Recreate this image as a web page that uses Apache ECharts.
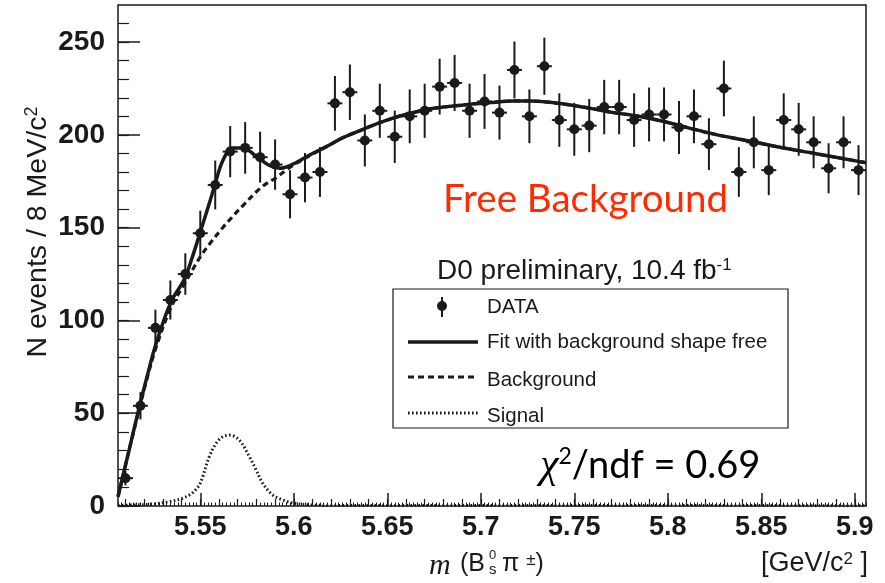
<!DOCTYPE html>
<html>
<head>
<meta charset="utf-8">
<script src="https://cdn.jsdelivr.net/npm/echarts@6.0.0/dist/echarts.min.js"></script>
<style>
html,body{margin:0;padding:0;background:#fff;}
#chart{width:885px;height:583px;}
</style>
</head>
<body>
<div id="chart"></div>
<script>
// ---- data ----
const massBins = [5.510,5.518,5.526,5.534,5.542,5.550,5.558,5.566,5.574,5.582,
                  5.590,5.598,5.606,5.614,5.622,5.630,5.638,5.646,5.654,5.662,
                  5.670,5.678,5.686,5.694,5.702,5.710,5.718,5.726,5.734,5.742,
                  5.750,5.758,5.766,5.774,5.782,5.790,5.798,5.806,5.814,5.822,
                  5.830,5.838,5.846,5.854,5.862,5.870,5.878,5.886,5.894,5.902];
const dataCounts = [15,54,96,111,125,147,173,191,193,188,
                    184,168,177,180,217,223,197,213,199,210,
                    213,226,228,213,218,212,235,210,237,208,
                    203,205,215,215,208,211,211,204,210,195,
                    225,180,196,181,208,203,196,182,196,181];

const fitMass = [5.506,5.5119,5.5173,5.5216,5.5262,5.5343,5.5414,5.5457,5.5495,5.5548,
                 5.5575,5.562,5.5673,5.5727,5.5799,5.587,5.5924,5.5995,5.6085,5.6174,
                 5.6263,5.6371,5.646,5.6568,5.6693,5.68,5.6943,5.705,5.7175,5.7265,
                 5.7355,5.748,5.7587,5.7712,5.7837,5.798,5.8106,5.8248,5.8428,5.8606,
                 5.8785,5.9026,5.906];
const fitVals = [5,30,53,70,87,110,122,134,146,163,
                 172,186,193,193,188.5,183.5,182,184.2,189.2,193.7,
                 198.5,203,206.6,210.2,213.3,215,216.5,217.4,218.3,218.3,
                 217.7,216.1,214.3,212,210.2,207.2,203.9,200.4,196.8,193.2,
                 190,185.6,185];

const bgMass = [5.506,5.5119,5.5173,5.5216,5.5262,5.5343,5.5414,5.5457,5.5495,5.5548,
                5.562,5.5673,5.5727,5.5826,5.5906,5.5987,5.6085,5.6174,
                5.6263,5.6371,5.646,5.6568,5.6693,5.68,5.6943,5.705,5.7175,5.7265,
                5.7355,5.748,5.7587,5.7712,5.7837,5.798,5.8106,5.8248,5.8428,5.8606,
                5.8785,5.9026,5.906];
const bgVals = [5,30,52,69,85,107,119.5,127,133.5,141,
                150,156,161.8,171.7,177,183,188.8,193.6,
                198.5,203,206.6,210.2,213.3,215,216.5,217.4,218.3,218.3,
                217.7,216.1,214.3,212,210.2,207.2,203.9,200.4,196.8,193.2,
                190,185.6,185];

const sigMass = [5.506,5.515,5.5242,5.5334,5.5403,5.5457,5.5495,5.5513,5.5548,5.5584,
                 5.562,5.5656,5.5709,5.5763,5.5799,5.5834,5.5888,5.5942,5.5995,5.6085,
                 5.62,5.906];
const sigVals = [0.3,0.6,1,2.3,4.1,7,11.3,15.8,26.5,33.7,
                 37.3,38.2,35.5,26.5,19.4,12.2,5.9,3.2,1.6,0.6,
                 0.3,0.2];

const xTickValues = [5.55,5.6,5.65,5.7,5.75,5.8,5.85,5.9];
const xTickLabels = ['5.55','5.6','5.65','5.7','5.75','5.8','5.85','5.9'];
const yTickValues = [0,50,100,150,200,250];
const yTickLabels = ['0','50','100','150','200','250'];
const halfBin = 0.004;

// minor tick positions (axis decoration only)
const xMid = [], xMinor = [], yMinor = [];
for (let k = 551; k <= 590; k++) xMid.push(k / 100);
for (let k = 2753; k <= 2953; k++) xMinor.push(k / 500);
for (let k = 0; k <= 26; k++) yMinor.push(k * 10);

const ink = '#1a1a1a';
const chart = echarts.init(document.getElementById('chart'), null, {renderer: 'canvas'});

const xBase = {type: 'value', min: 5.506, max: 5.906, gridIndex: 0, position: 'bottom',
               axisLine: {show: false}, splitLine: {show: false}};
const yBase = {type: 'value', min: 0, max: 270, gridIndex: 0, position: 'left',
               axisLine: {show: false}, splitLine: {show: false}};

chart.setOption({
  animation: false,
  grid: {left: 118, right: 19, top: 5, bottom: 77, show: true, borderColor: ink, borderWidth: 1.5, backgroundColor: 'transparent'},
  xAxis: [
    Object.assign({}, xBase, {
      axisTick: {show: true, inside: true, length: 13, customValues: xTickValues, lineStyle: {color: ink, width: 1.5}},
      axisLabel: {show: true, customValues: xTickValues, margin: 8,
        formatter: v => xTickLabels[xTickValues.findIndex(t => Math.abs(t - v) < 1e-6)] || '',
        fontFamily: 'Liberation Sans', fontWeight: 'bold', fontSize: 27, color: ink}
    }),
    Object.assign({}, xBase, {
      axisTick: {show: true, inside: true, length: 7, customValues: xMid, lineStyle: {color: ink, width: 1.2}},
      axisLabel: {show: false}
    }),
    Object.assign({}, xBase, {
      axisTick: {show: true, inside: true, length: 3.5, customValues: xMinor, lineStyle: {color: ink, width: 1}},
      axisLabel: {show: false}
    })
  ],
  yAxis: [
    Object.assign({}, yBase, {
      axisTick: {show: true, inside: true, length: 22, customValues: yTickValues, lineStyle: {color: ink, width: 1.5}},
      axisLabel: {show: true, customValues: yTickValues, margin: 13,
        formatter: v => yTickLabels[yTickValues.indexOf(Math.round(v))] || '',
        fontFamily: 'Liberation Sans', fontWeight: 'bold', fontSize: 28, color: ink}
    }),
    Object.assign({}, yBase, {
      axisTick: {show: true, inside: true, length: 11, customValues: yMinor, lineStyle: {color: ink, width: 1.2}},
      axisLabel: {show: false}
    })
  ],
  series: [
    {
      name: 'Signal', type: 'line', xAxisIndex: 0, yAxisIndex: 0, showSymbol: false, smooth: 0.35,
      data: sigMass.map((m, i) => [m, sigVals[i]]),
      lineStyle: {color: ink, width: 3, type: [1.6, 2.4]}, z: 3
    },
    {
      name: 'Background', type: 'line', xAxisIndex: 0, yAxisIndex: 0, showSymbol: false, smooth: 0.35,
      data: bgMass.map((m, i) => [m, bgVals[i]]),
      lineStyle: {color: ink, width: 3.2, type: [6, 4]}, z: 3
    },
    {
      name: 'Fit with background shape free', type: 'line', xAxisIndex: 0, yAxisIndex: 0, showSymbol: false, smooth: 0.35,
      data: fitMass.map((m, i) => [m, fitVals[i]]),
      lineStyle: {color: ink, width: 3.5}, z: 4
    },
    {
      name: 'DATA', type: 'custom', xAxisIndex: 0, yAxisIndex: 0, z: 5,
      data: massBins.map((m, i) => [m, dataCounts[i], Math.sqrt(dataCounts[i])]),
      renderItem: function (params, api) {
        const x = api.value(0), y = api.value(1), e = api.value(2);
        const c = api.coord([x, y]);
        const t = api.coord([x, y + e]);
        const b = api.coord([x, y - e]);
        const l = api.coord([x - halfBin, y]);
        const r = api.coord([x + halfBin, y]);
        return {
          type: 'group',
          children: [
            {type: 'line', shape: {x1: t[0], y1: t[1], x2: b[0], y2: b[1]}, style: {stroke: ink, lineWidth: 2}},
            {type: 'line', shape: {x1: l[0], y1: l[1], x2: r[0], y2: r[1]}, style: {stroke: ink, lineWidth: 2}},
            {type: 'circle', shape: {cx: c[0], cy: c[1], r: 5}, style: {fill: ink}}
          ]
        };
      }
    }
  ],
  graphic: [
    // y-axis title
    {type: 'text', x: 38, y: 232, rotation: Math.PI / 2, z: 10,
      style: {text: '{t|N events / 8 MeV/c}{s|2}', align: 'center', verticalAlign: 'middle',
        rich: {t: {fontFamily: 'Liberation Sans', fontSize: 28.5, fill: ink},
               s: {fontFamily: 'Liberation Sans', fontSize: 18, fill: ink, verticalAlign: 'top'}}}},
    // x-axis title
    {type: 'text', x: 429, y: 566, z: 10,
      style: {text: 'm', fontFamily: 'Liberation Serif', fontStyle: 'italic', fontSize: 30, fill: ink, align: 'left', verticalAlign: 'middle'}},
    {type: 'text', x: 460, y: 564, z: 10,
      style: {text: '(B', fontFamily: 'Liberation Sans', fontSize: 25, fill: ink, align: 'left', verticalAlign: 'middle'}},
    {type: 'text', x: 489, y: 555, z: 10,
      style: {text: '0', fontFamily: 'Liberation Sans', fontSize: 13, fill: ink, align: 'left', verticalAlign: 'middle'}},
    {type: 'text', x: 489, y: 570, z: 10,
      style: {text: 's', fontFamily: 'Liberation Sans', fontSize: 15, fill: ink, align: 'left', verticalAlign: 'middle'}},
    {type: 'text', x: 502, y: 564, z: 10,
      style: {text: '{t|π }{s|±}{t|)}', align: 'left', verticalAlign: 'middle',
        rich: {t: {fontFamily: 'Liberation Sans', fontSize: 25, fill: ink},
               s: {fontFamily: 'Liberation Sans', fontSize: 17, fill: ink, verticalAlign: 'top'}}}},
    {type: 'text', x: 868, y: 564, z: 10,
      style: {text: '{t|[GeV/c}{s|2}{t| ]}', align: 'right', verticalAlign: 'middle',
        rich: {t: {fontFamily: 'Liberation Sans', fontSize: 27, fill: ink},
               s: {fontFamily: 'Liberation Sans', fontSize: 17, fill: ink, verticalAlign: 'top'}}}},
    // annotations
    {type: 'text', x: 443, y: 200, z: 10,
      style: {text: 'Free Background', fontFamily: 'Lato', fontSize: 38.5, fill: '#ff2a00', align: 'left', verticalAlign: 'middle'}},
    {type: 'text', x: 437, y: 271, z: 10,
      style: {text: '{t|D0 preliminary, 10.4 fb}{s|-1}', align: 'left', verticalAlign: 'middle',
        rich: {t: {fontFamily: 'Liberation Sans', fontSize: 28, fill: ink},
               s: {fontFamily: 'Liberation Sans', fontSize: 17, fill: ink, verticalAlign: 'top'}}}},
    {type: 'text', x: 540, y: 466, z: 10,
      style: {text: '{c|χ}{s|2}{t|/ndf = 0.69}', align: 'left', verticalAlign: 'middle',
        rich: {c: {fontFamily: 'Liberation Serif', fontStyle: 'italic', fontSize: 42, fill: '#000'},
               s: {fontFamily: 'Lato', fontSize: 23, fill: '#000', verticalAlign: 'top'},
               t: {fontFamily: 'Lato', fontSize: 38, fill: '#000'}}}},
    // legend
    {type: 'rect', shape: {x: 393, y: 289, width: 395, height: 139}, z: 8,
      style: {fill: '#fff', stroke: ink, lineWidth: 1.2}},
    {type: 'line', shape: {x1: 442, y1: 297, x2: 442, y2: 317}, z: 9, style: {stroke: ink, lineWidth: 2}},
    {type: 'circle', shape: {cx: 442, cy: 306, r: 5}, z: 9, style: {fill: ink}},
    {type: 'line', shape: {x1: 408, y1: 342, x2: 478, y2: 342}, z: 9, style: {stroke: ink, lineWidth: 3.5}},
    {type: 'line', shape: {x1: 408, y1: 377, x2: 478, y2: 377}, z: 9, style: {stroke: ink, lineWidth: 3.2, lineDash: [6, 4]}},
    {type: 'line', shape: {x1: 408, y1: 413, x2: 478, y2: 413}, z: 9, style: {stroke: ink, lineWidth: 3, lineDash: [1.6, 2.4]}},
    {type: 'text', x: 487, y: 307, z: 9, style: {text: 'DATA', fontFamily: 'Liberation Sans', fontSize: 20.5, fill: ink, verticalAlign: 'middle'}},
    {type: 'text', x: 487, y: 342, z: 9, style: {text: 'Fit with background shape free', fontFamily: 'Liberation Sans', fontSize: 20.5, fill: ink, verticalAlign: 'middle'}},
    {type: 'text', x: 487, y: 380, z: 9, style: {text: 'Background', fontFamily: 'Liberation Sans', fontSize: 20.5, fill: ink, verticalAlign: 'middle'}},
    {type: 'text', x: 487, y: 416, z: 9, style: {text: 'Signal', fontFamily: 'Liberation Sans', fontSize: 20.5, fill: ink, verticalAlign: 'middle'}}
  ]
});
</script>
</body>
</html>
